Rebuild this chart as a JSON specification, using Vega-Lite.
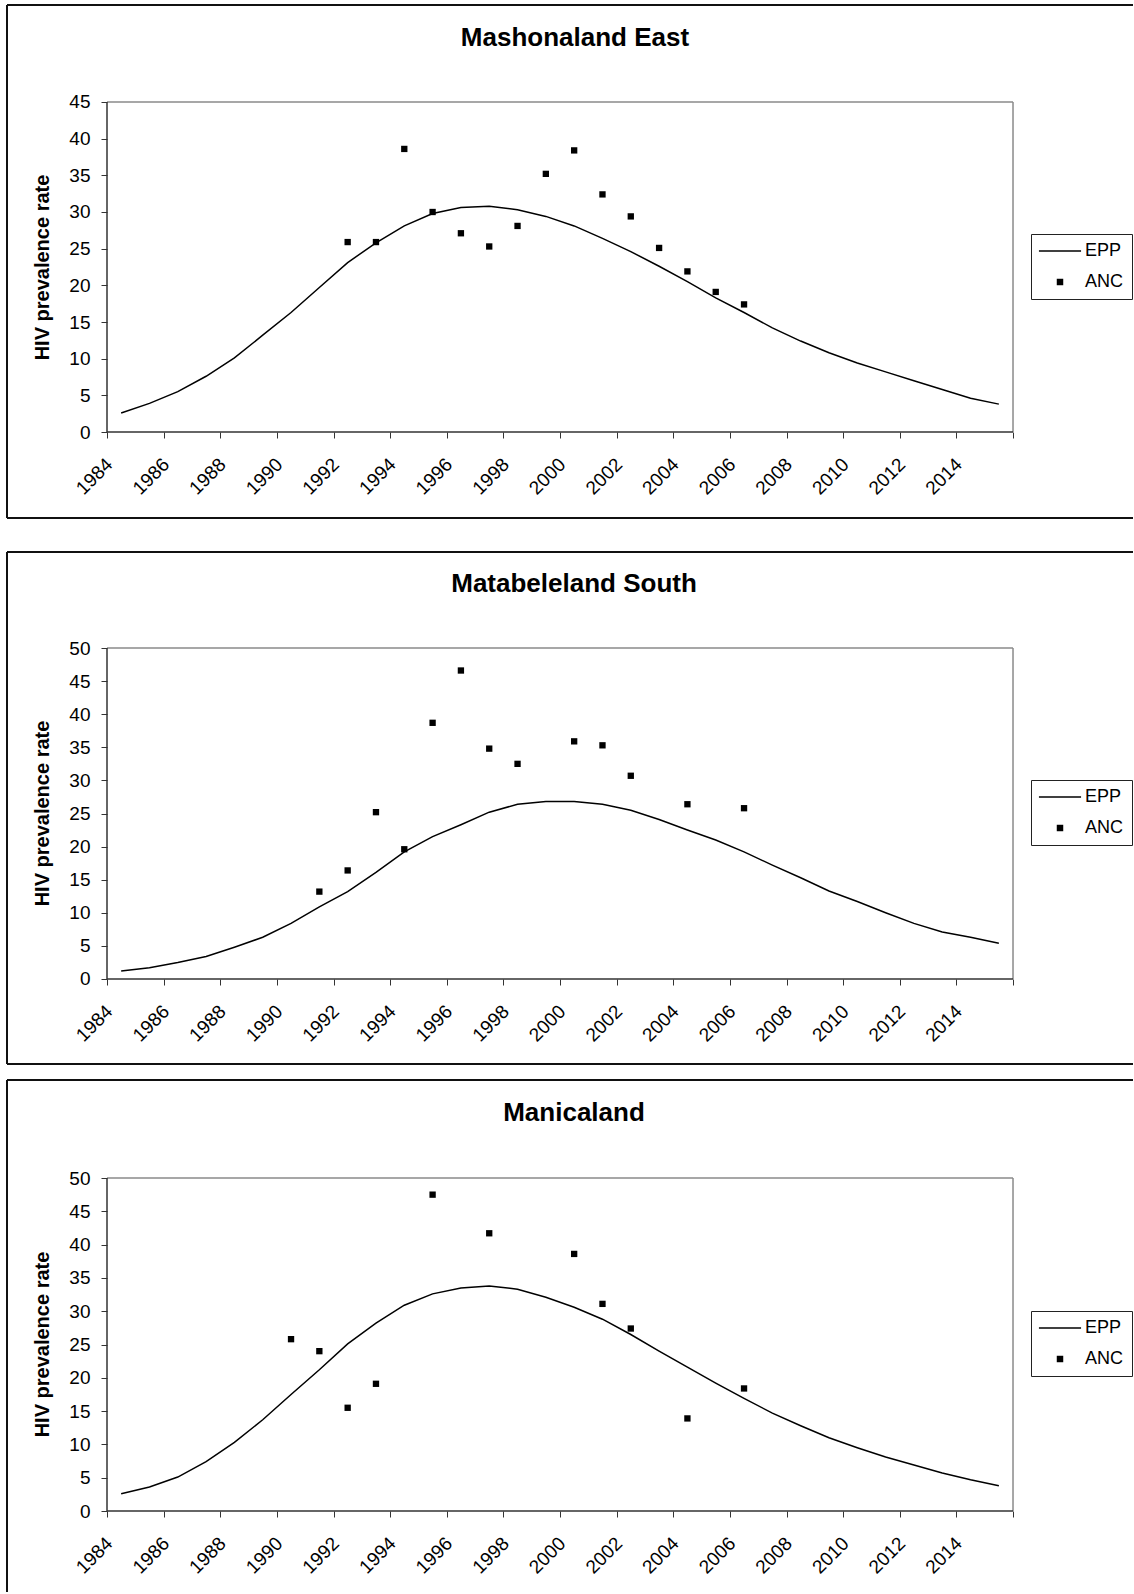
{
"$schema": "https://vega.github.io/schema/vega-lite/v6.json",
"background": "white",
"padding": {"left": 6, "top": 4, "right": 0, "bottom": 0},
"config": {
  "view": {"stroke": null},
  "font": "Liberation Sans",
  "axis": {"grid": false, "domain": false, "labelFont": "Liberation Sans", "labelFontSize": 19, "labelColor": "black", "tickColor": "#333", "tickWidth": 1, "titleFont": "Liberation Sans", "titleFontSize": 20, "titleFontWeight": "bold", "titleColor": "black"},
  "legend": {"labelFont": "Liberation Sans", "labelFontSize": 18, "labelColor": "black", "strokeColor": "#222", "fillColor": "white", "padding": 8, "rowPadding": 13, "symbolOffset": 12, "labelOffset": 16, "symbolSize": 42},
  "title": {"font": "Liberation Sans", "fontSize": 26, "fontWeight": "bold", "color": "black", "anchor": "middle", "frame": "group"}
},
"datasets": {
  "me": [
    {"year": 1984, "value": 2.6, "series": "EPP"}, {"year": 1985, "value": 3.9, "series": "EPP"}, {"year": 1986, "value": 5.5, "series": "EPP"}, {"year": 1987, "value": 7.6, "series": "EPP"}, {"year": 1988, "value": 10.1, "series": "EPP"}, {"year": 1989, "value": 13.2, "series": "EPP"}, {"year": 1990, "value": 16.3, "series": "EPP"}, {"year": 1991, "value": 19.7, "series": "EPP"}, {"year": 1992, "value": 23.1, "series": "EPP"}, {"year": 1993, "value": 25.8, "series": "EPP"}, {"year": 1994, "value": 28.1, "series": "EPP"}, {"year": 1995, "value": 29.8, "series": "EPP"}, {"year": 1996, "value": 30.6, "series": "EPP"}, {"year": 1997, "value": 30.8, "series": "EPP"}, {"year": 1998, "value": 30.3, "series": "EPP"}, {"year": 1999, "value": 29.4, "series": "EPP"}, {"year": 2000, "value": 28.1, "series": "EPP"}, {"year": 2001, "value": 26.4, "series": "EPP"}, {"year": 2002, "value": 24.6, "series": "EPP"}, {"year": 2003, "value": 22.6, "series": "EPP"}, {"year": 2004, "value": 20.5, "series": "EPP"}, {"year": 2005, "value": 18.3, "series": "EPP"}, {"year": 2006, "value": 16.3, "series": "EPP"}, {"year": 2007, "value": 14.2, "series": "EPP"}, {"year": 2008, "value": 12.4, "series": "EPP"}, {"year": 2009, "value": 10.8, "series": "EPP"}, {"year": 2010, "value": 9.4, "series": "EPP"}, {"year": 2011, "value": 8.2, "series": "EPP"}, {"year": 2012, "value": 7.0, "series": "EPP"}, {"year": 2013, "value": 5.8, "series": "EPP"}, {"year": 2014, "value": 4.6, "series": "EPP"}, {"year": 2015, "value": 3.8, "series": "EPP"},
    {"year": 1992, "value": 25.9, "series": "ANC"}, {"year": 1993, "value": 25.9, "series": "ANC"}, {"year": 1994, "value": 38.6, "series": "ANC"}, {"year": 1995, "value": 30.0, "series": "ANC"}, {"year": 1996, "value": 27.1, "series": "ANC"}, {"year": 1997, "value": 25.3, "series": "ANC"}, {"year": 1998, "value": 28.1, "series": "ANC"}, {"year": 1999, "value": 35.2, "series": "ANC"}, {"year": 2000, "value": 38.4, "series": "ANC"}, {"year": 2001, "value": 32.4, "series": "ANC"}, {"year": 2002, "value": 29.4, "series": "ANC"}, {"year": 2003, "value": 25.1, "series": "ANC"}, {"year": 2004, "value": 21.9, "series": "ANC"}, {"year": 2005, "value": 19.1, "series": "ANC"}, {"year": 2006, "value": 17.4, "series": "ANC"}
  ],
  "ms": [
    {"year": 1984, "value": 1.2, "series": "EPP"}, {"year": 1985, "value": 1.7, "series": "EPP"}, {"year": 1986, "value": 2.5, "series": "EPP"}, {"year": 1987, "value": 3.4, "series": "EPP"}, {"year": 1988, "value": 4.8, "series": "EPP"}, {"year": 1989, "value": 6.3, "series": "EPP"}, {"year": 1990, "value": 8.4, "series": "EPP"}, {"year": 1991, "value": 10.9, "series": "EPP"}, {"year": 1992, "value": 13.2, "series": "EPP"}, {"year": 1993, "value": 16.1, "series": "EPP"}, {"year": 1994, "value": 19.2, "series": "EPP"}, {"year": 1995, "value": 21.5, "series": "EPP"}, {"year": 1996, "value": 23.3, "series": "EPP"}, {"year": 1997, "value": 25.2, "series": "EPP"}, {"year": 1998, "value": 26.4, "series": "EPP"}, {"year": 1999, "value": 26.8, "series": "EPP"}, {"year": 2000, "value": 26.8, "series": "EPP"}, {"year": 2001, "value": 26.4, "series": "EPP"}, {"year": 2002, "value": 25.5, "series": "EPP"}, {"year": 2003, "value": 24.1, "series": "EPP"}, {"year": 2004, "value": 22.5, "series": "EPP"}, {"year": 2005, "value": 21.0, "series": "EPP"}, {"year": 2006, "value": 19.2, "series": "EPP"}, {"year": 2007, "value": 17.2, "series": "EPP"}, {"year": 2008, "value": 15.3, "series": "EPP"}, {"year": 2009, "value": 13.3, "series": "EPP"}, {"year": 2010, "value": 11.7, "series": "EPP"}, {"year": 2011, "value": 10.0, "series": "EPP"}, {"year": 2012, "value": 8.4, "series": "EPP"}, {"year": 2013, "value": 7.1, "series": "EPP"}, {"year": 2014, "value": 6.3, "series": "EPP"}, {"year": 2015, "value": 5.4, "series": "EPP"},
    {"year": 1991, "value": 13.2, "series": "ANC"}, {"year": 1992, "value": 16.4, "series": "ANC"}, {"year": 1993, "value": 25.2, "series": "ANC"}, {"year": 1994, "value": 19.6, "series": "ANC"}, {"year": 1995, "value": 38.7, "series": "ANC"}, {"year": 1996, "value": 46.6, "series": "ANC"}, {"year": 1997, "value": 34.8, "series": "ANC"}, {"year": 1998, "value": 32.5, "series": "ANC"}, {"year": 2000, "value": 35.9, "series": "ANC"}, {"year": 2001, "value": 35.3, "series": "ANC"}, {"year": 2002, "value": 30.7, "series": "ANC"}, {"year": 2004, "value": 26.4, "series": "ANC"}, {"year": 2006, "value": 25.8, "series": "ANC"}
  ],
  "mn": [
    {"year": 1984, "value": 2.6, "series": "EPP"}, {"year": 1985, "value": 3.6, "series": "EPP"}, {"year": 1986, "value": 5.1, "series": "EPP"}, {"year": 1987, "value": 7.4, "series": "EPP"}, {"year": 1988, "value": 10.3, "series": "EPP"}, {"year": 1989, "value": 13.7, "series": "EPP"}, {"year": 1990, "value": 17.5, "series": "EPP"}, {"year": 1991, "value": 21.2, "series": "EPP"}, {"year": 1992, "value": 25.1, "series": "EPP"}, {"year": 1993, "value": 28.2, "series": "EPP"}, {"year": 1994, "value": 30.9, "series": "EPP"}, {"year": 1995, "value": 32.6, "series": "EPP"}, {"year": 1996, "value": 33.5, "series": "EPP"}, {"year": 1997, "value": 33.8, "series": "EPP"}, {"year": 1998, "value": 33.3, "series": "EPP"}, {"year": 1999, "value": 32.1, "series": "EPP"}, {"year": 2000, "value": 30.6, "series": "EPP"}, {"year": 2001, "value": 28.8, "series": "EPP"}, {"year": 2002, "value": 26.5, "series": "EPP"}, {"year": 2003, "value": 24.0, "series": "EPP"}, {"year": 2004, "value": 21.6, "series": "EPP"}, {"year": 2005, "value": 19.2, "series": "EPP"}, {"year": 2006, "value": 16.9, "series": "EPP"}, {"year": 2007, "value": 14.7, "series": "EPP"}, {"year": 2008, "value": 12.8, "series": "EPP"}, {"year": 2009, "value": 11.0, "series": "EPP"}, {"year": 2010, "value": 9.5, "series": "EPP"}, {"year": 2011, "value": 8.1, "series": "EPP"}, {"year": 2012, "value": 6.9, "series": "EPP"}, {"year": 2013, "value": 5.7, "series": "EPP"}, {"year": 2014, "value": 4.7, "series": "EPP"}, {"year": 2015, "value": 3.8, "series": "EPP"},
    {"year": 1990, "value": 25.8, "series": "ANC"}, {"year": 1991, "value": 24.0, "series": "ANC"}, {"year": 1992, "value": 15.5, "series": "ANC"}, {"year": 1993, "value": 19.1, "series": "ANC"}, {"year": 1995, "value": 47.5, "series": "ANC"}, {"year": 1997, "value": 41.7, "series": "ANC"}, {"year": 2000, "value": 38.6, "series": "ANC"}, {"year": 2001, "value": 31.1, "series": "ANC"}, {"year": 2002, "value": 27.4, "series": "ANC"}, {"year": 2004, "value": 13.9, "series": "ANC"}, {"year": 2006, "value": 18.4, "series": "ANC"}
  ]
},
"spacing": 34,
"bounds": "flush",
"resolve": {"scale": {"shape": "independent"}, "legend": {"shape": "independent"}},
"vconcat": [
  {
    "width": 1126, "height": 513,
    "title": {"text": "Mashonaland East", "offset": -47, "dx": 5},
    "layer": [
      {"data": {"name": "me"}, "transform": [{"filter": "datum.series === 'EPP'"}], "mark": {"type": "line", "color": "black", "strokeWidth": 1.5},
       "encoding": {
         "x": {"field": "year", "type": "quantitative", "scale": {"domain": [1979.968, 2019.738], "nice": false, "zero": false},
               "axis": {"values": [1983.5,1984.5,1985.5,1986.5,1987.5,1988.5,1989.5,1990.5,1991.5,1992.5,1993.5,1994.5,1995.5,1996.5,1997.5,1998.5,1999.5,2000.5,2001.5,2002.5,2003.5,2004.5,2005.5,2006.5,2007.5,2008.5,2009.5,2010.5,2011.5,2012.5,2013.5,2014.5,2015.5], "orient": "bottom", "offset": -86, "title": null, "labelAngle": -45, "labelAlign": "right", "labelBaseline": "middle", "labelOffset": 2, "labelPadding": 23, "tickSize": 6, "labelOverlap": false, "labelFlush": false, "labelBound": false, "labelExpr": "(datum.value + 0.5) % 2 == 0 && datum.value < 2015 ? format(datum.value + 0.5, 'd') : ''"}},
         "y": {"field": "value", "type": "quantitative", "scale": {"domain": [-11.727, 58.227], "nice": false, "zero": false},
               "axis": {"values": [0,5,10,15,20,25,30,35,40,45], "orient": "left", "offset": -100, "title": "HIV prevalence rate", "titleX": -65, "titleY": 262, "titleAlign": "center", "titleBaseline": "middle", "titleAngle": -90, "tickSize": 6, "labelPadding": 11, "labelOverlap": false, "labelFlush": false, "labelBound": false}}
       }},
      {"data": {"values": [{}]}, "mark": {"type": "rule", "color": "#111", "strokeWidth": 2}, "encoding": {"x": {"datum": 1979.968, "type": "quantitative"}, "x2": {"datum": 2019.738}, "y": {"datum": 58.227, "type": "quantitative"}}},
      {"data": {"values": [{}]}, "mark": {"type": "rule", "color": "#111", "strokeWidth": 2}, "encoding": {"x": {"datum": 1979.968, "type": "quantitative"}, "x2": {"datum": 2019.738}, "y": {"datum": -11.727, "type": "quantitative"}}},
      {"data": {"values": [{}]}, "mark": {"type": "rule", "color": "#111", "strokeWidth": 2}, "encoding": {"x": {"datum": 1979.968, "type": "quantitative"}, "y": {"datum": -11.727, "type": "quantitative"}, "y2": {"datum": 58.227}}},
      {"data": {"values": [{}]}, "mark": {"type": "rule", "color": "#8a8a8a", "strokeWidth": 1.5}, "encoding": {"x": {"datum": 1983.5, "type": "quantitative"}, "x2": {"datum": 2015.5}, "y": {"datum": 45, "type": "quantitative"}}},
      {"data": {"values": [{}]}, "mark": {"type": "rule", "color": "#8a8a8a", "strokeWidth": 1.5}, "encoding": {"x": {"datum": 2015.5, "type": "quantitative"}, "y": {"datum": 0, "type": "quantitative"}, "y2": {"datum": 45}}},
      {"data": {"values": [{}]}, "mark": {"type": "rule", "color": "#333", "strokeWidth": 1.5}, "encoding": {"x": {"datum": 1983.5, "type": "quantitative"}, "y": {"datum": 0, "type": "quantitative"}, "y2": {"datum": 45}}},
      {"data": {"values": [{}]}, "mark": {"type": "rule", "color": "#333", "strokeWidth": 1.5}, "encoding": {"x": {"datum": 1983.5, "type": "quantitative"}, "x2": {"datum": 2015.5}, "y": {"datum": 0, "type": "quantitative"}}},
      {"data": {"name": "me"}, "transform": [{"filter": "datum.series === 'ANC'"}], "mark": {"type": "point", "filled": true, "color": "black", "opacity": 1, "size": 40},
       "encoding": {
         "x": {"field": "year", "type": "quantitative"},
         "y": {"field": "value", "type": "quantitative"},
         "shape": {"field": "series", "type": "nominal", "scale": {"domain": ["EPP", "ANC"], "range": ["M-6.5,-0.23H6.5V0.23H-6.5Z", "square"]},
                   "legend": {"title": null, "orient": "none", "legendX": 1024, "legendY": 229}}
       }}
    ]
  },
  {
    "spacing": 16,
    "bounds": "flush",
    "resolve": {"scale": {"shape": "independent"}, "legend": {"shape": "independent"}},
    "vconcat": [
      {
        "width": 1126, "height": 512,
        "title": {"text": "Matabeleland South", "offset": -46, "dx": 4},
        "layer": [
          {"data": {"name": "ms"}, "transform": [{"filter": "datum.series === 'EPP'"}], "mark": {"type": "line", "color": "black", "strokeWidth": 1.5},
           "encoding": {
             "x": {"field": "year", "type": "quantitative", "scale": {"domain": [1979.968, 2019.738], "nice": false, "zero": false},
                   "axis": {"values": [1983.5,1984.5,1985.5,1986.5,1987.5,1988.5,1989.5,1990.5,1991.5,1992.5,1993.5,1994.5,1995.5,1996.5,1997.5,1998.5,1999.5,2000.5,2001.5,2002.5,2003.5,2004.5,2005.5,2006.5,2007.5,2008.5,2009.5,2010.5,2011.5,2012.5,2013.5,2014.5,2015.5], "orient": "bottom", "offset": -85, "title": null, "labelAngle": -45, "labelAlign": "right", "labelBaseline": "middle", "labelOffset": 2, "labelPadding": 23, "tickSize": 6, "labelOverlap": false, "labelFlush": false, "labelBound": false, "labelExpr": "(datum.value + 0.5) % 2 == 0 && datum.value < 2015 ? format(datum.value + 0.5, 'd') : ''"}},
             "y": {"field": "value", "type": "quantitative", "scale": {"domain": [-12.84, 64.502], "nice": false, "zero": false},
                   "axis": {"values": [0,5,10,15,20,25,30,35,40,45,50], "orient": "left", "offset": -100, "title": "HIV prevalence rate", "titleX": -65, "titleY": 261, "titleAlign": "center", "titleBaseline": "middle", "titleAngle": -90, "tickSize": 6, "labelPadding": 11, "labelOverlap": false, "labelFlush": false, "labelBound": false}}
           }},
          {"data": {"values": [{}]}, "mark": {"type": "rule", "color": "#111", "strokeWidth": 2}, "encoding": {"x": {"datum": 1979.968, "type": "quantitative"}, "x2": {"datum": 2019.738}, "y": {"datum": 64.502, "type": "quantitative"}}},
          {"data": {"values": [{}]}, "mark": {"type": "rule", "color": "#111", "strokeWidth": 2}, "encoding": {"x": {"datum": 1979.968, "type": "quantitative"}, "x2": {"datum": 2019.738}, "y": {"datum": -12.84, "type": "quantitative"}}},
          {"data": {"values": [{}]}, "mark": {"type": "rule", "color": "#111", "strokeWidth": 2}, "encoding": {"x": {"datum": 1979.968, "type": "quantitative"}, "y": {"datum": -12.84, "type": "quantitative"}, "y2": {"datum": 64.502}}},
          {"data": {"values": [{}]}, "mark": {"type": "rule", "color": "#8a8a8a", "strokeWidth": 1.5}, "encoding": {"x": {"datum": 1983.5, "type": "quantitative"}, "x2": {"datum": 2015.5}, "y": {"datum": 50, "type": "quantitative"}}},
          {"data": {"values": [{}]}, "mark": {"type": "rule", "color": "#8a8a8a", "strokeWidth": 1.5}, "encoding": {"x": {"datum": 2015.5, "type": "quantitative"}, "y": {"datum": 0, "type": "quantitative"}, "y2": {"datum": 50}}},
          {"data": {"values": [{}]}, "mark": {"type": "rule", "color": "#333", "strokeWidth": 1.5}, "encoding": {"x": {"datum": 1983.5, "type": "quantitative"}, "y": {"datum": 0, "type": "quantitative"}, "y2": {"datum": 50}}},
          {"data": {"values": [{}]}, "mark": {"type": "rule", "color": "#333", "strokeWidth": 1.5}, "encoding": {"x": {"datum": 1983.5, "type": "quantitative"}, "x2": {"datum": 2015.5}, "y": {"datum": 0, "type": "quantitative"}}},
          {"data": {"name": "ms"}, "transform": [{"filter": "datum.series === 'ANC'"}], "mark": {"type": "point", "filled": true, "color": "black", "opacity": 1, "size": 40},
           "encoding": {
             "x": {"field": "year", "type": "quantitative"},
             "y": {"field": "value", "type": "quantitative"},
             "shape": {"field": "series", "type": "nominal", "scale": {"domain": ["EPP", "ANC"], "range": ["M-6.5,-0.23H6.5V0.23H-6.5Z", "square"]},
                       "legend": {"title": null, "orient": "none", "legendX": 1024, "legendY": 228}}
           }}
        ]
      },
      {
        "width": 1126, "height": 512,
        "title": {"text": "Manicaland", "offset": -47, "dx": 4},
        "layer": [
          {"data": {"name": "mn"}, "transform": [{"filter": "datum.series === 'EPP'"}], "mark": {"type": "line", "color": "black", "strokeWidth": 1.5},
           "encoding": {
             "x": {"field": "year", "type": "quantitative", "scale": {"domain": [1979.968, 2019.738], "nice": false, "zero": false},
                   "axis": {"values": [1983.5,1984.5,1985.5,1986.5,1987.5,1988.5,1989.5,1990.5,1991.5,1992.5,1993.5,1994.5,1995.5,1996.5,1997.5,1998.5,1999.5,2000.5,2001.5,2002.5,2003.5,2004.5,2005.5,2006.5,2007.5,2008.5,2009.5,2010.5,2011.5,2012.5,2013.5,2014.5,2015.5], "orient": "bottom", "offset": -81, "title": null, "labelAngle": -45, "labelAlign": "right", "labelBaseline": "middle", "labelOffset": 2, "labelPadding": 23, "tickSize": 6, "labelOverlap": false, "labelFlush": false, "labelBound": false, "labelExpr": "(datum.value + 0.5) % 2 == 0 && datum.value < 2015 ? format(datum.value + 0.5, 'd') : ''"}},
             "y": {"field": "value", "type": "quantitative", "scale": {"domain": [-12.162, 64.715], "nice": false, "zero": false},
                   "axis": {"values": [0,5,10,15,20,25,30,35,40,45,50], "orient": "left", "offset": -100, "title": "HIV prevalence rate", "titleX": -65, "titleY": 264, "titleAlign": "center", "titleBaseline": "middle", "titleAngle": -90, "tickSize": 6, "labelPadding": 11, "labelOverlap": false, "labelFlush": false, "labelBound": false}}
           }},
          {"data": {"values": [{}]}, "mark": {"type": "rule", "color": "#111", "strokeWidth": 2}, "encoding": {"x": {"datum": 1979.968, "type": "quantitative"}, "x2": {"datum": 2019.738}, "y": {"datum": 64.715, "type": "quantitative"}}},
          {"data": {"values": [{}]}, "mark": {"type": "rule", "color": "#111", "strokeWidth": 2}, "encoding": {"x": {"datum": 1979.968, "type": "quantitative"}, "y": {"datum": -12.162, "type": "quantitative"}, "y2": {"datum": 64.715}}},
          {"data": {"values": [{}]}, "mark": {"type": "rule", "color": "#8a8a8a", "strokeWidth": 1.5}, "encoding": {"x": {"datum": 1983.5, "type": "quantitative"}, "x2": {"datum": 2015.5}, "y": {"datum": 50, "type": "quantitative"}}},
          {"data": {"values": [{}]}, "mark": {"type": "rule", "color": "#8a8a8a", "strokeWidth": 1.5}, "encoding": {"x": {"datum": 2015.5, "type": "quantitative"}, "y": {"datum": 0, "type": "quantitative"}, "y2": {"datum": 50}}},
          {"data": {"values": [{}]}, "mark": {"type": "rule", "color": "#333", "strokeWidth": 1.5}, "encoding": {"x": {"datum": 1983.5, "type": "quantitative"}, "y": {"datum": 0, "type": "quantitative"}, "y2": {"datum": 50}}},
          {"data": {"values": [{}]}, "mark": {"type": "rule", "color": "#333", "strokeWidth": 1.5}, "encoding": {"x": {"datum": 1983.5, "type": "quantitative"}, "x2": {"datum": 2015.5}, "y": {"datum": 0, "type": "quantitative"}}},
          {"data": {"name": "mn"}, "transform": [{"filter": "datum.series === 'ANC'"}], "mark": {"type": "point", "filled": true, "color": "black", "opacity": 1, "size": 40},
           "encoding": {
             "x": {"field": "year", "type": "quantitative"},
             "y": {"field": "value", "type": "quantitative"},
             "shape": {"field": "series", "type": "nominal", "scale": {"domain": ["EPP", "ANC"], "range": ["M-6.5,-0.23H6.5V0.23H-6.5Z", "square"]},
                       "legend": {"title": null, "orient": "none", "legendX": 1024, "legendY": 231}}
           }}
        ]
      }
    ]
  }
]
}
